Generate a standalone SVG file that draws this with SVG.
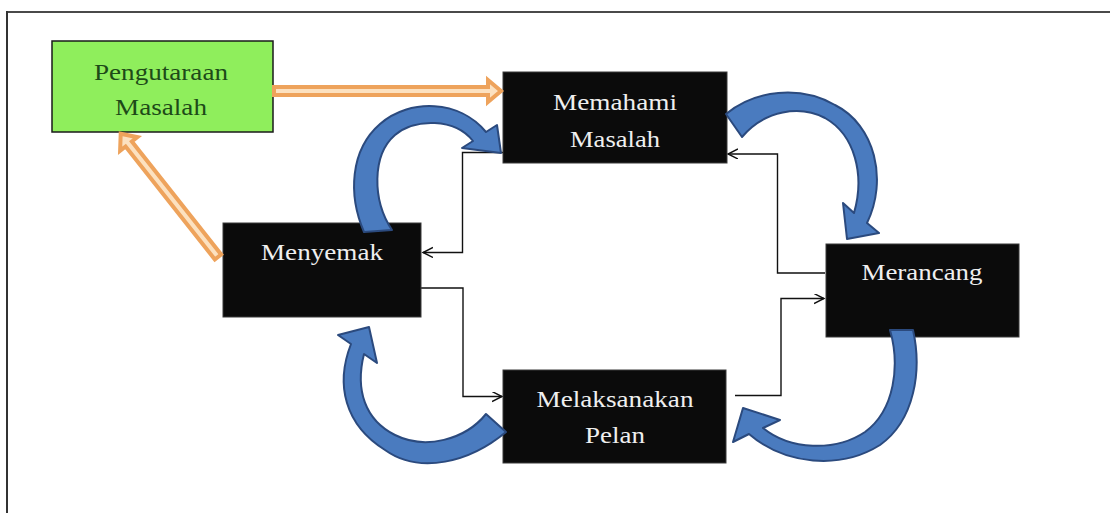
<svg xmlns="http://www.w3.org/2000/svg" width="1110" height="513" viewBox="0 0 1110 513">
  <defs>
    <style>
      .box { fill: #0b0b0b; stroke: #3a3a3a; stroke-width: 1; }
      .start { fill: #8fee5c; stroke: #1a1a1a; stroke-width: 1.5; }
      .lbl { font-family: "Liberation Serif", "Times New Roman", serif; font-size: 24px; text-anchor: middle; fill: #efefef; }
      .lbl-dark { fill: #1d4a18; }
      .link { fill: none; stroke: #111; stroke-width: 1.4; }
      .cycle { fill: #4a7bbf; stroke: #2b4a7e; stroke-width: 2; stroke-linejoin: round; }
      .feed { fill: #fce1c0; stroke: #eea35c; stroke-width: 4; stroke-linejoin: miter; }
    </style>
    <marker id="open" markerUnits="userSpaceOnUse" markerWidth="12" markerHeight="12" refX="10" refY="5" orient="auto">
      <path d="M0,0 L10,5 L0,10" fill="none" stroke="#111" stroke-width="1.4"/>
    </marker>
  </defs>

  <rect width="1110" height="513" fill="#ffffff"/>

  <!-- outer frame -->
  <g id="frame">
    <line x1="7" y1="12" x2="1110" y2="12" stroke="#4a4a4a" stroke-width="2"/>
    <line x1="7" y1="11" x2="7" y2="513" stroke="#333" stroke-width="2"/>
  </g>

  <!-- thin elbow connectors -->
  <g id="connectors">
    <path class="link" d="M825,273 H777.5 V154 H728" marker-end="url(#open)"/>
    <path class="link" d="M735,395.5 H781 V298.5 H824" marker-end="url(#open)"/>
    <path class="link" d="M503,152.5 H462.5 V252.5 H423" marker-end="url(#open)"/>
    <path class="link" d="M421,288 H463 V396.5 H502" marker-end="url(#open)"/>
  </g>

  <!-- nodes -->
  <g id="node-pengutaraan">
    <rect class="start" x="52" y="41" width="221" height="91"/>
    <text class="lbl lbl-dark" x="161" y="80" textLength="134" lengthAdjust="spacingAndGlyphs">Pengutaraan</text>
    <text class="lbl lbl-dark" x="161" y="115" textLength="92" lengthAdjust="spacingAndGlyphs">Masalah</text>
  </g>
  <g id="node-memahami">
    <rect class="box" x="503" y="72" width="224" height="91"/>
    <text class="lbl" x="615" y="110" textLength="124" lengthAdjust="spacingAndGlyphs">Memahami</text>
    <text class="lbl" x="615" y="147" textLength="90" lengthAdjust="spacingAndGlyphs">Masalah</text>
  </g>
  <g id="node-menyemak">
    <rect class="box" x="223" y="223" width="198" height="94"/>
    <text class="lbl" x="322" y="260" textLength="122" lengthAdjust="spacingAndGlyphs">Menyemak</text>
  </g>
  <g id="node-merancang">
    <rect class="box" x="826" y="244" width="193" height="93"/>
    <text class="lbl" x="922" y="280" textLength="121" lengthAdjust="spacingAndGlyphs">Merancang</text>
  </g>
  <g id="node-melaksanakan">
    <rect class="box" x="503" y="370" width="223" height="93"/>
    <text class="lbl" x="615" y="407" textLength="157" lengthAdjust="spacingAndGlyphs">Melaksanakan</text>
    <text class="lbl" x="615" y="443" textLength="60" lengthAdjust="spacingAndGlyphs">Pelan</text>
  </g>

  <!-- orange feedback arrows -->
  <g id="feed-arrows">
    <polygon class="feed" points="274,87 488,87 488,80 501,91 488,102 488,95 274,95"/>
    <polygon class="feed" transform="translate(218,257) rotate(-128.3)" points="0,-4 144,-4 144,-11 157,0 144,11 144,4 0,4"/>
  </g>

  <!-- blue curved cycle arrows -->
  <g id="cycle-arrows">
    <!-- Menyemak to Memahami Masalah -->
    <path class="cycle" d="M364,232 C348,195 350,150 380,124 C410,98 460,100 486,132 L497,125 L501,153 L462,148 L473,141 C455,118 415,118 395,135 C372,155 372,200 392,230 Z"/>
    <!-- Memahami Masalah to Merancang -->
    <path class="cycle" d="M726,114 C755,90 800,85 835,105 C875,125 888,180 867,223 L879,233 L847,239 L843,203 L854,213 C865,175 855,135 825,118 C800,105 765,110 742,137 Z"/>
    <!-- Merancang to Melaksanakan Pelan -->
    <path class="cycle" d="M913,330 C922,370 915,420 880,445 C840,470 785,465 749,434 L733,442 L743,408 L780,420 L763,428 C790,450 835,452 865,432 C895,410 900,365 890,330 Z"/>
    <!-- Melaksanakan Pelan to Menyemak -->
    <path class="cycle" d="M506,432 C470,462 420,475 385,450 C345,425 335,385 351,344 L338,335 L369,327 L377,363 L364,354 C355,390 365,420 395,435 C425,450 465,440 486,414 Z"/>
  </g>
</svg>
